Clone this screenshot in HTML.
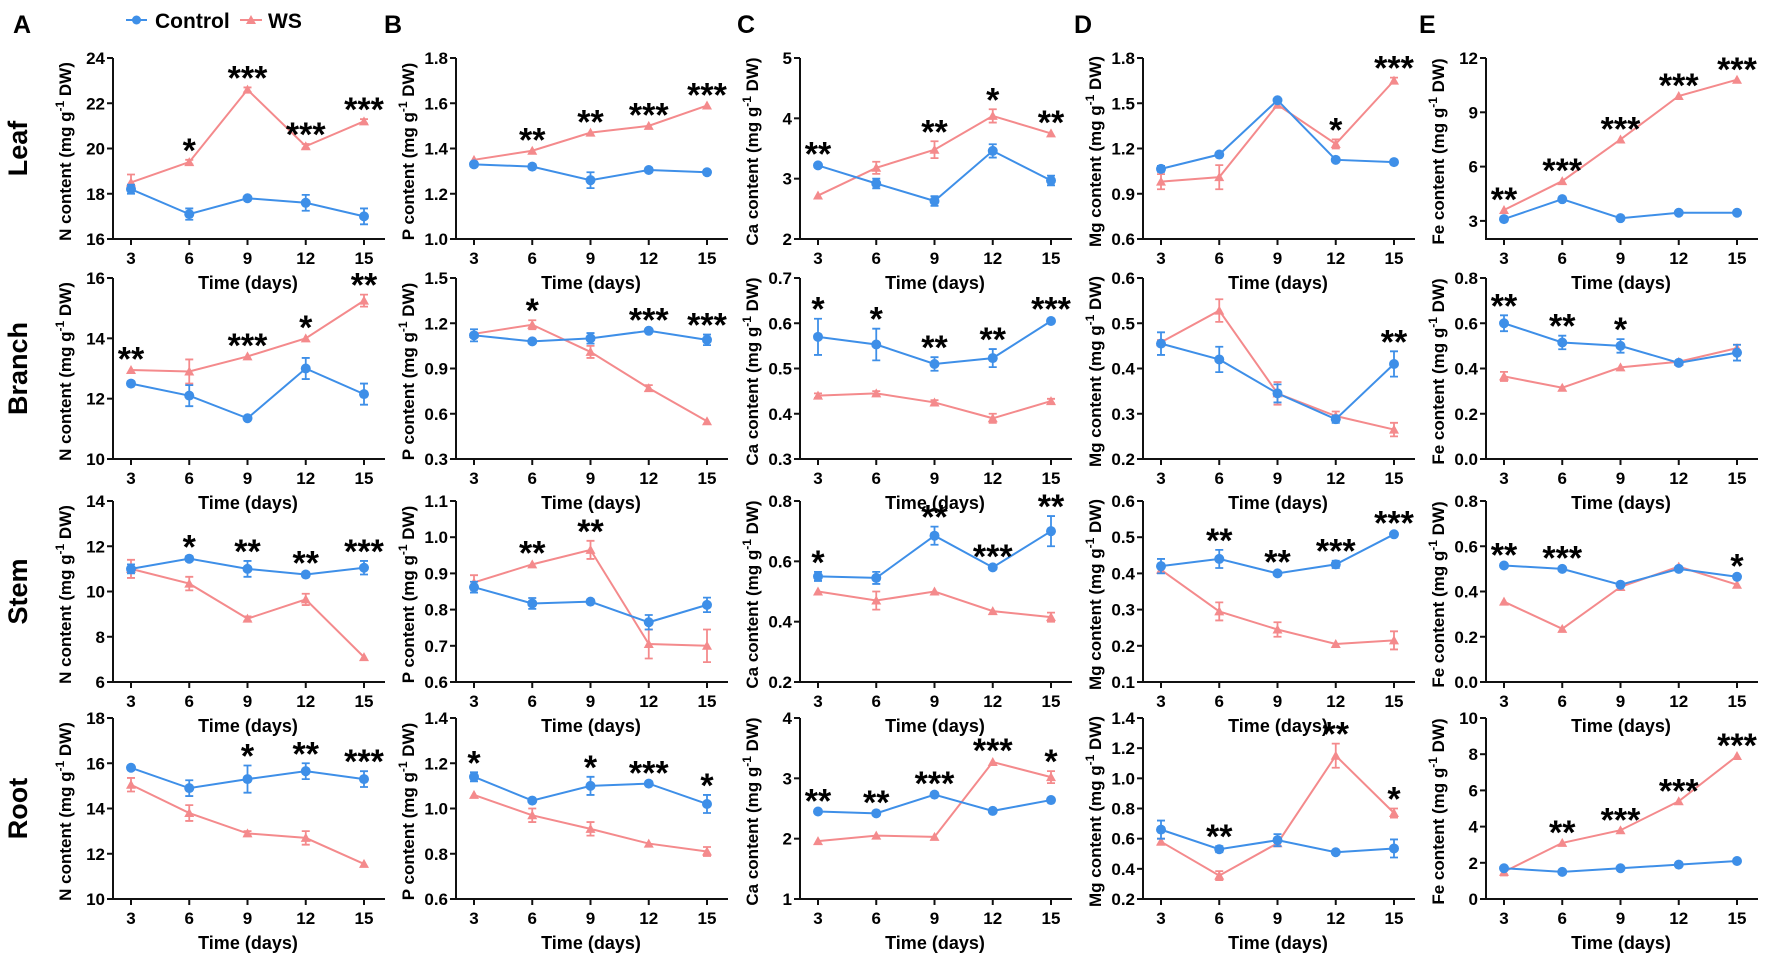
<!DOCTYPE html>
<html><head><meta charset="utf-8"><style>
body{margin:0;background:#fff;}
svg{display:block;font-family:"Liberation Sans",Arial,sans-serif;font-weight:bold;}
</style></head><body>
<svg id="fig" width="1772" height="961" viewBox="0 0 1772 961" xmlns="http://www.w3.org/2000/svg"></svg>
<script>
const days = [3, 6, 9, 12, 15];
const rowNames = ["Leaf", "Branch", "Stem", "Root"];
const colLetters = ["A", "B", "C", "D", "E"];
const elements = ["N", "P", "Ca", "Mg", "Fe"];

const ctrlA1 = [18.2, 17.1, 17.8, 17.6, 17.0], errCA1 = [0.2, 0.25, 0.1, 0.35, 0.35];
const wsA1 = [18.5, 19.4, 22.6, 20.1, 21.2], errWA1 = [0.35, 0.1, 0.1, 0.1, 0.1];
const starA1 = ["", "*", "***", "***", "***"];
const ctrlA2 = [12.5, 12.1, 11.35, 13.0, 12.15], errCA2 = [0.05, 0.35, 0.05, 0.35, 0.35];
const wsA2 = [12.95, 12.9, 13.4, 14.0, 15.25], errWA2 = [0.05, 0.4, 0.05, 0.05, 0.2];
const starA2 = ["**", "", "***", "*", "**"];
const ctrlA3 = [11.0, 11.45, 11.0, 10.75, 11.05], errCA3 = [0.2, 0.1, 0.35, 0.1, 0.3];
const wsA3 = [11.0, 10.35, 8.8, 9.65, 7.1], errWA3 = [0.4, 0.3, 0.1, 0.25, 0.05];
const starA3 = ["", "*", "**", "**", "***"];
const ctrlA4 = [15.8, 14.9, 15.3, 15.65, 15.3], errCA4 = [0.1, 0.35, 0.6, 0.35, 0.35];
const wsA4 = [15.05, 13.8, 12.9, 12.7, 11.55], errWA4 = [0.3, 0.35, 0.1, 0.3, 0.05];
const starA4 = ["", "", "*", "**", "***"];

const ctrlB1 = [1.33, 1.32, 1.26, 1.305, 1.295], errCB1 = [0.01, 0.01, 0.035, 0.01, 0.01];
const wsB1 = [1.35, 1.39, 1.47, 1.50, 1.59], errWB1 = [0.005, 0.005, 0.005, 0.005, 0.005];
const starB1 = ["", "**", "**", "***", "***"];
const ctrlB2 = [1.12, 1.08, 1.10, 1.15, 1.09], errCB2 = [0.04, 0.01, 0.035, 0.01, 0.035];
const wsB2 = [1.13, 1.19, 1.01, 0.77, 0.55], errWB2 = [0.01, 0.03, 0.04, 0.02, 0.005];
const starB2 = ["", "*", "", "***", "***"];
const ctrlB3 = [0.862, 0.817, 0.822, 0.765, 0.813], errCB3 = [0.015, 0.015, 0.005, 0.02, 0.02];
const wsB3 = [0.875, 0.925, 0.965, 0.705, 0.70], errWB3 = [0.02, 0.005, 0.025, 0.04, 0.045];
const starB3 = ["", "**", "**", "", ""];
const ctrlB4 = [1.14, 1.035, 1.10, 1.11, 1.02], errCB4 = [0.02, 0.005, 0.04, 0.005, 0.04];
const wsB4 = [1.06, 0.97, 0.91, 0.845, 0.81], errWB4 = [0.005, 0.03, 0.03, 0.005, 0.02];
const starB4 = ["*", "", "*", "***", "*"];

const ctrlC1 = [3.22, 2.92, 2.63, 3.46, 2.97], errCC1 = [0.03, 0.08, 0.08, 0.11, 0.08];
const wsC1 = [2.72, 3.18, 3.48, 4.04, 3.75], errWC1 = [0.02, 0.1, 0.14, 0.11, 0.02];
const starC1 = ["**", "", "**", "*", "**"];
const ctrlC2 = [0.57, 0.553, 0.51, 0.523, 0.605], errCC2 = [0.04, 0.035, 0.015, 0.02, 0.005];
const wsC2 = [0.44, 0.445, 0.425, 0.39, 0.428], errWC2 = [0.005, 0.005, 0.005, 0.01, 0.005];
const starC2 = ["*", "*", "**", "**", "***"];
const ctrlC3 = [0.55, 0.545, 0.685, 0.58, 0.70], errCC3 = [0.015, 0.02, 0.03, 0.005, 0.05];
const wsC3 = [0.50, 0.47, 0.50, 0.435, 0.415], errWC3 = [0.005, 0.03, 0.005, 0.005, 0.015];
const starC3 = ["*", "", "**", "***", "**"];
const ctrlC4 = [2.45, 2.42, 2.73, 2.46, 2.64], errCC4 = [0.02, 0.02, 0.03, 0.02, 0.02];
const wsC4 = [1.96, 2.05, 2.03, 3.27, 3.02], errWC4 = [0.02, 0.02, 0.02, 0.03, 0.1];
const starC4 = ["**", "**", "***", "***", "*"];

const ctrlD1 = [1.065, 1.16, 1.52, 1.125, 1.11], errCD1 = [0.02, 0.01, 0.01, 0.01, 0.01];
const wsD1 = [0.98, 1.01, 1.49, 1.23, 1.65], errWD1 = [0.05, 0.08, 0.01, 0.03, 0.02];
const starD1 = ["", "", "", "*", "***"];
const ctrlD2 = [0.455, 0.42, 0.345, 0.288, 0.41], errCD2 = [0.025, 0.028, 0.02, 0.008, 0.028];
const wsD2 = [0.458, 0.528, 0.345, 0.295, 0.265], errWD2 = [0.005, 0.025, 0.025, 0.01, 0.015];
const starD2 = ["", "", "", "", "**"];
const ctrlD3 = [0.42, 0.44, 0.40, 0.425, 0.508], errCD3 = [0.02, 0.025, 0.005, 0.01, 0.005];
const wsD3 = [0.41, 0.295, 0.245, 0.205, 0.215], errWD3 = [0.005, 0.025, 0.02, 0.005, 0.025];
const starD3 = ["", "**", "**", "***", "***"];
const ctrlD4 = [0.66, 0.53, 0.59, 0.51, 0.535], errCD4 = [0.06, 0.02, 0.04, 0.01, 0.06];
const wsD4 = [0.58, 0.355, 0.57, 1.15, 0.77], errWD4 = [0.02, 0.03, 0.02, 0.08, 0.03];
const starD4 = ["", "**", "", "**", "*"];

const ctrlE1 = [3.1, 4.2, 3.15, 3.45, 3.45], errCE1 = [0.05, 0.05, 0.05, 0.05, 0.05];
const wsE1 = [3.6, 5.2, 7.5, 9.9, 10.8], errWE1 = [0.05, 0.05, 0.05, 0.05, 0.05];
const starE1 = ["**", "***", "***", "***", "***"];
const ctrlE2 = [0.60, 0.515, 0.50, 0.425, 0.47], errCE2 = [0.035, 0.03, 0.03, 0.005, 0.035];
const wsE2 = [0.365, 0.315, 0.405, 0.43, 0.49], errWE2 = [0.02, 0.005, 0.005, 0.005, 0.015];
const starE2 = ["**", "**", "*", "", ""];
const ctrlE3 = [0.515, 0.50, 0.43, 0.50, 0.465], errCE3 = [0.005, 0.005, 0.005, 0.005, 0.005];
const wsE3 = [0.355, 0.235, 0.42, 0.51, 0.43], errWE3 = [0.005, 0.005, 0.005, 0.005, 0.005];
const starE3 = ["**", "***", "", "", "*"];
const ctrlE4 = [1.7, 1.5, 1.7, 1.9, 2.1], errCE4 = [0.05, 0.05, 0.05, 0.05, 0.05];
const wsE4 = [1.5, 3.1, 3.8, 5.4, 7.9], errWE4 = [0.2, 0.05, 0.05, 0.05, 0.05];
const starE4 = ["", "**", "***", "***", "***"];

const ticksA = [["16","18","20","22","24"],["10","12","14","16"],["6","8","10","12","14"],["10","12","14","16","18"]];
const ticksB = [["1.0","1.2","1.4","1.6","1.8"],["0.3","0.6","0.9","1.2","1.5"],["0.6","0.7","0.8","0.9","1.0","1.1"],["0.6","0.8","1.0","1.2","1.4"]];
const ticksC = [["2","3","4","5"],["0.3","0.4","0.5","0.6","0.7"],["0.2","0.4","0.6","0.8"],["1","2","3","4"]];
const ticksD = [["0.6","0.9","1.2","1.5","1.8"],["0.2","0.3","0.4","0.5","0.6"],["0.1","0.2","0.3","0.4","0.5","0.6"],["0.2","0.4","0.6","0.8","1.0","1.2","1.4"]];
const ticksE = [["3","6","9","12"],["0.0","0.2","0.4","0.6","0.8"],["0.0","0.2","0.4","0.6","0.8"],["0","2","4","6","8","10"]];
const yMinE1 = 2;

const NS = "http://www.w3.org/2000/svg";
const svg = document.getElementById("fig");
function mk(tag, attrs, parent) {
  const e = document.createElementNS(NS, tag);
  for (const k in attrs) e.setAttribute(k, attrs[k]);
  (parent || svg).appendChild(e);
  return e;
}
const CTRL = "#3e8fe8", WS = "#f48a8c";
const colX = [113, 456, 800, 1143, 1486];
const rowY = [58, 278, 501, 718];
const PH = 181, PW = 272;
const letterX = [13, 384, 737, 1074, 1419];

const data = {
  A: [[ctrlA1,errCA1,wsA1,errWA1,starA1],[ctrlA2,errCA2,wsA2,errWA2,starA2],[ctrlA3,errCA3,wsA3,errWA3,starA3],[ctrlA4,errCA4,wsA4,errWA4,starA4]],
  B: [[ctrlB1,errCB1,wsB1,errWB1,starB1],[ctrlB2,errCB2,wsB2,errWB2,starB2],[ctrlB3,errCB3,wsB3,errWB3,starB3],[ctrlB4,errCB4,wsB4,errWB4,starB4]],
  C: [[ctrlC1,errCC1,wsC1,errWC1,starC1],[ctrlC2,errCC2,wsC2,errWC2,starC2],[ctrlC3,errCC3,wsC3,errWC3,starC3],[ctrlC4,errCC4,wsC4,errWC4,starC4]],
  D: [[ctrlD1,errCD1,wsD1,errWD1,starD1],[ctrlD2,errCD2,wsD2,errWD2,starD2],[ctrlD3,errCD3,wsD3,errWD3,starD3],[ctrlD4,errCD4,wsD4,errWD4,starD4]],
  E: [[ctrlE1,errCE1,wsE1,errWE1,starE1],[ctrlE2,errCE2,wsE2,errWE2,starE2],[ctrlE3,errCE3,wsE3,errWE3,starE3],[ctrlE4,errCE4,wsE4,errWE4,starE4]]
};
const ticks = {A: ticksA, B: ticksB, C: ticksC, D: ticksD, E: ticksE};

colLetters.forEach((L, c) => {
  const t = mk("text", {x: letterX[c], y: 33, "font-size": 25});
  t.textContent = L;
  
  
});
const leg = mk("g", {});


mk("line", {x1: 126, y1: 20, x2: 147, y2: 20, stroke: CTRL, "stroke-width": 2}, leg);
mk("circle", {cx: 136.5, cy: 20, r: 4.5, fill: CTRL}, leg);
const lt1 = mk("text", {x: 155, y: 28, "font-size": 21}, leg); lt1.textContent = "Control";
mk("line", {x1: 240, y1: 20, x2: 262, y2: 20, stroke: WS, "stroke-width": 2}, leg);
mk("path", {d: "M251,15 L256,24 L246,24 Z", fill: WS}, leg);
const lt2 = mk("text", {x: 268, y: 28, "font-size": 21}, leg); lt2.textContent = "WS";

rowNames.forEach((R, r) => {
  const cy = rowY[r] + PH / 2;
  const t = mk("text", {x: 0, y: 0, "font-size": 27, "text-anchor": "middle", transform: `translate(27,${cy}) rotate(-90)`});
  t.textContent = R;
  
  
});

colLetters.forEach((L, c) => {
  rowNames.forEach((R, r) => {
    const x0 = colX[c], y0 = rowY[r];
    const tk = ticks[L][r];
    const tv = tk.map(Number);
    const ymin = (L === "E" && r === 0) ? yMinE1 : tv[0];
    const ymax = tv[tv.length - 1];
    const ys = v => y0 + PH - (v - ymin) / (ymax - ymin) * PH;
    const xs = d => x0 + 18 + (d - 3) / 12 * 233;
    const g = mk("g", {});
    
    
    mk("line", {x1: x0, y1: y0, x2: x0, y2: y0 + PH + 1, stroke: "#111", "stroke-width": 2}, g);
    mk("line", {x1: x0 - 1, y1: y0 + PH, x2: x0 + PW, y2: y0 + PH, stroke: "#111", "stroke-width": 2}, g);
    tk.forEach((lab, i) => {
      const y = ys(tv[i]);
      mk("line", {x1: x0 - 6, y1: y, x2: x0, y2: y, stroke: "#111", "stroke-width": 2}, g);
      const t = mk("text", {x: x0 - 8, y: y + 6, "font-size": 17, "text-anchor": "end"}, g);
      t.textContent = lab;
    });
    days.forEach(d => {
      const x = xs(d);
      mk("line", {x1: x, y1: y0 + PH, x2: x, y2: y0 + PH + 6, stroke: "#111", "stroke-width": 2}, g);
      const t = mk("text", {x: x, y: y0 + PH + 25, "font-size": 17, "text-anchor": "middle"}, g);
      t.textContent = d;
    });
    const xl = mk("text", {x: x0 + 135, y: y0 + PH + 50, "font-size": 18, "text-anchor": "middle"}, g);
    xl.textContent = "Time (days)";
    
    
    const yl = mk("text", {x: 0, y: 0, "font-size": 17, "text-anchor": "middle", transform: `translate(${x0 - 42},${y0 + PH / 2 + 3}) rotate(-90)`}, g);
    
    
    const s1 = mk("tspan", {}, yl); s1.textContent = elements[c] + " content (mg g";
    const s2 = mk("tspan", {dy: -7, "font-size": 12}, yl); s2.textContent = "-1";
    const s3 = mk("tspan", {dy: 7}, yl); s3.textContent = " DW)";

    const [cv, ce, wv, we, st] = data[L][r];
    const series = [[wv, we, WS, "tri"], [cv, ce, CTRL, "circ"]];
    series.forEach(([vals, errs, col, shape]) => {
      const pts = vals.map((v, i) => xs(days[i]) + "," + ys(v)).join(" ");
      const pl = mk("polyline", {points: pts, fill: "none", stroke: col, "stroke-width": 2}, g);
      
      
      vals.forEach((v, i) => {
        const x = xs(days[i]), y = ys(v);
        const e = errs[i];
        if (ys(v - e) - ys(v + e) > 4) {
          mk("path", {d: `M${x},${ys(v + e)} V${ys(v - e)} M${x - 4},${ys(v + e)} H${x + 4} M${x - 4},${ys(v - e)} H${x + 4}`, stroke: col, "stroke-width": 1.8, fill: "none"}, g);
        }
        let m;
        if (shape === "circ") m = mk("circle", {cx: x, cy: y, r: 5, fill: col}, g);
        else m = mk("path", {d: `M${x},${y - 5} L${x + 5},${y + 4} L${x - 5},${y + 4} Z`, fill: col}, g);
        
        
      });
    });
    st.forEach((s, i) => {
      if (!s) return;
      const top = Math.min(ys(cv[i] + ce[i]) - 5, ys(wv[i] + we[i]) - 5);
      const t = mk("text", {x: xs(days[i]), y: top + 7, "font-size": 34, "text-anchor": "middle"}, g);
      t.textContent = s;
      
      
    });
  });
});
</script>
</body></html>
